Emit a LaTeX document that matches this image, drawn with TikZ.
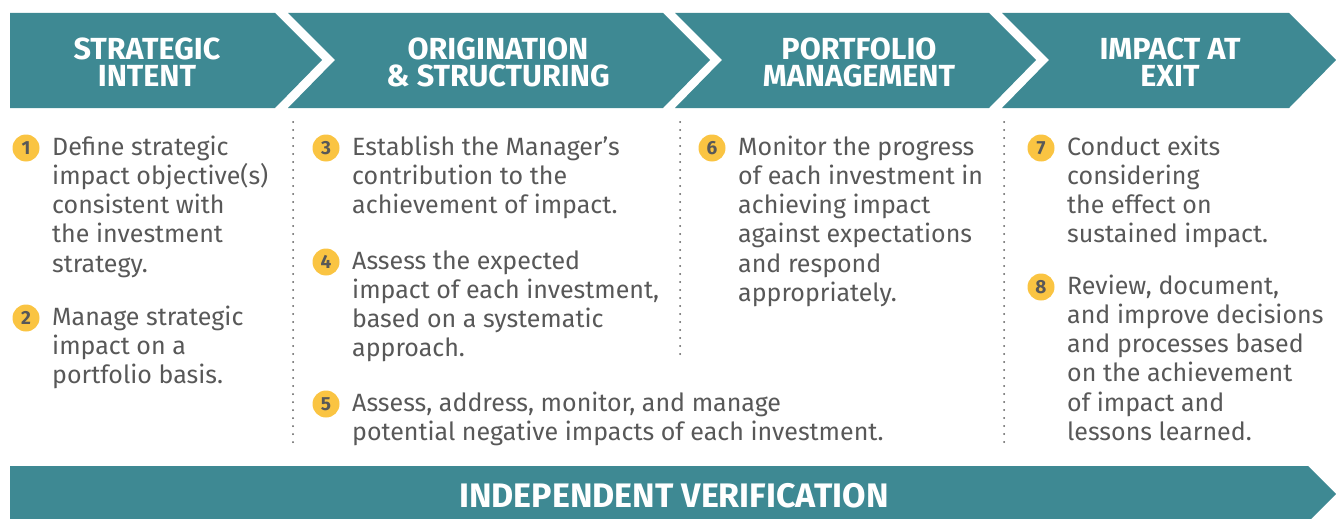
\documentclass[tikz,border=0pt]{standalone}
\usepackage{fontspec}
\setmainfont{Fira Sans}
\usetikzlibrary{positioning}
\definecolor{bandteal}{RGB}{62,137,147}
\definecolor{dotyellow}{RGB}{250,196,66}
\definecolor{bodygray}{RGB}{88,88,88}
\tikzstyle{band} = [fill=bandteal, draw=none]
\tikzstyle{heading} = [text=white, font=\fontsize{30.5}{27}\selectfont\bfseries, align=center, inner sep=0pt]
\tikzstyle{item} = [text=bodygray, font=\fontsize{25}{29.3}\selectfont, align=left, anchor=base west, inner sep=0pt]
\tikzstyle{num} = [circle, fill=dotyellow, minimum size=27pt, inner sep=0pt, text=bodygray, font=\fontsize{19}{19}\selectfont\bfseries]
\tikzstyle{divider} = [line width=2pt, dash pattern=on 0pt off 8pt, line cap=round, draw=bodygray]

\begin{document}
\begin{tikzpicture}[x=1pt, y=-1pt] % one unit per pixel of the layout

\useasboundingbox (0,0) rectangle (1336,519);

% Chevron bands across the top
\fill[band] (10,13) -- (275,13) -- (322,60) -- (275,108) -- (10,108) -- cycle;
\fill[band] (288,13) -- (663,13) -- (710,60) -- (663,108) -- (288,108) -- (335,60) -- cycle;
\fill[band] (675,13) -- (989,13) -- (1036,60) -- (989,108) -- (675,108) -- (722,60) -- cycle;
\fill[band] (1002,13) -- (1289,13) -- (1336,60) -- (1289,108) -- (1002,108) -- (1049,60) -- cycle;
\fill[band] (10,466) -- (1308,466) -- (1336,494) -- (1311,519) -- (10,519) -- cycle;

\node(intent)    [heading] at (147,62)  {STRATEGIC\\INTENT};
\node(origin)    [heading] at (498,62)  {ORIGINATION\\\& STRUCTURING};
\node(portfolio) [heading] at (859,62)  {PORTFOLIO\\MANAGEMENT};
\node(exit)      [heading] at (1170,62) {IMPACT AT\\EXIT};
\node(verify)    [heading, font=\fontsize{34}{34}\selectfont\bfseries] at (674,496) {INDEPENDENT VERIFICATION};

% Dotted column dividers
\coordinate (d1top) at (293,122);  \coordinate (d1bot) at (293,442);
\coordinate (d2top) at (680,122);  \coordinate (d2bot) at (680,358);
\coordinate (d3top) at (1004,122); \coordinate (d3bot) at (1004,442);
\draw [divider] (d1top) -- (d1bot);
\draw [divider] (d2top) -- (d2bot);
\draw [divider] (d3top) -- (d3bot);

% Numbered steps (text placed at the baseline of its last line)
\node(n1) [num] at (26,148)   {1};
\node(n2) [num] at (26,318)   {2};
\node(n3) [num] at (326,148)  {3};
\node(n4) [num] at (326,262)  {4};
\node(n5) [num] at (326,404)  {5};
\node(n6) [num] at (712,148)  {6};
\node(n7) [num] at (1041,148) {7};
\node(n8) [num] at (1041,287) {8};

\node(s1) [item] at (52,272.2)    {Define strategic\\impact objective(s)\\consistent with\\the investment\\strategy.};
\node(s2) [item] at (52,383.6)    {Manage strategic\\impact on a\\portfolio basis.};
\node(s3) [item] at (352,213.6)   {Establish the Manager’s\\contribution to the\\achievement of impact.};
\node(s4) [item] at (352,356.9)   {Assess the expected\\impact of each investment,\\based on a systematic\\approach.};
\node(s5) [item] at (352,440.3)   {Assess, address, monitor, and manage\\potential negative impacts of each investment.};
\node(s6) [item] at (738,301.5)   {Monitor the progress\\of each investment in\\achieving impact\\against expectations\\and respond\\appropriately.};
\node(s7) [item] at (1067,242.9)  {Conduct exits\\considering\\the effect on\\sustained impact.};
\node(s8) [item] at (1067,440.5)  {Review, document,\\and improve decisions\\and processes based\\on the achievement\\of impact and\\lessons learned.};

\end{tikzpicture}
\end{document}
